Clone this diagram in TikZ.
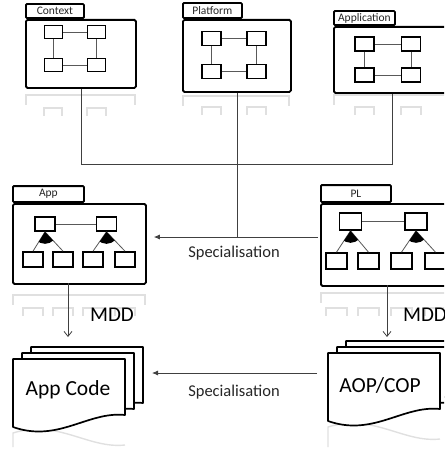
\documentclass[tikz,border=0pt]{standalone}
\usepackage{fontspec}
\setmainfont{Carlito}
\usetikzlibrary{arrows.meta}

\tikzset{
  pkg/.style={draw, line width=1.8pt, rounded corners=1.5pt, fill=white, inner sep=0pt, anchor=north west},
  pkgtab/.style={draw, line width=1.8pt, rounded corners=1pt, fill=white, inner sep=0pt, anchor=south west,
    text=black!85, font=\fontsize{11.5}{11.5}\selectfont},
  cell/.style={draw, line width=1.6pt, fill=white, inner sep=0pt},
  link/.style={line width=0.8pt, black!65},
  wire/.style={line width=0.8pt, black!75},
  ghost/.style={line width=1.4pt, black!12},
  sheet/.style={draw, line width=1.7pt, fill=white, line join=round},
  speclbl/.style={text=black!85, font=\fontsize{16.5}{16.5}\selectfont},
  mddlbl/.style={font=\fontsize{21}{21}\selectfont},
  doclbl/.style={font=\fontsize{21.5}{21.5}\selectfont},
  mddarrow/.style={wire, -{Straight Barb[length=5pt,width=8pt]}},
  specarrow/.style={wire, -{Latex[length=6pt,width=5pt]}},
  docpage/.pic={\filldraw[sheet] (0,0) -- (112,0) -- (112,56) .. controls (75,52) and (45,84) .. (0,68) -- cycle;}
}

% faint mirror image under a package
\newcommand{\ghostpkg}[5]{%
  \draw[ghost] (#1,#3+10) -- (#1,#3) -- (#2,#3) -- (#2,#3+10);
  \foreach \a/\b in {#5} \draw[ghost] (\a,#4+8) -- (\a,#4) -- (\b,#4) -- (\b,#4+8);
}

% parent cell with two children
\newcommand{\forklink}[3]{%
  \draw[link] (#1.south) -- (#2.north) (#1.south) -- (#3.north);
  \begin{scope}
    \clip (#1.south) circle [radius=12pt];
    \fill (#1.south) -- (#2.north) -- (#3.north) -- cycle;
  \end{scope}
}

\begin{document}
\begin{tikzpicture}[x=1pt, y=-1pt]
	\useasboundingbox (0,0) rectangle (444,452);
	\clip (0,0) rectangle (444,452);

	% Reflections
	\ghostpkg{26}{135}{95}{108}{44/62,87/106}
	\ghostpkg{183}{289}{96}{107}{202/221,247/266}
	\ghostpkg{334}{450}{95}{107}{355/374,401/421}
	\ghostpkg{13}{145}{295}{308}{23/43,53/73,83/103,115/135}
	\ghostpkg{321}{460}{293}{308}{326/347,358/379,391/412,425/446}
	\draw[ghost] (13,447) -- (13,433) .. controls (58,419) and (88,449) .. (125,445);
	\draw[ghost] (328,447) -- (328,427) .. controls (373,413) and (403,443) .. (440,439);

	% Context
	\node[pkg, minimum width=110, minimum height=68] (ctx) at (25,19) {};
	\node[pkgtab, minimum width=58, minimum height=14] (ctxtab) at (ctx.north west) {Context};
	\node[cell, minimum width=18, minimum height=13] (ctx1) at (53.5,32) {};
	\node[cell, minimum width=18, minimum height=13] (ctx2) at (96.5,32) {};
	\node[cell, minimum width=18, minimum height=13] (ctx3) at (53.5,65) {};
	\node[cell, minimum width=18, minimum height=13] (ctx4) at (96.5,65) {};
	\draw[link] (ctx1) -- (ctx2) -- (ctx4) -- (ctx3) -- (ctx1);

	% Platform
	\node[pkg, minimum width=108, minimum height=72] (plat) at (182,19) {};
	\node[pkgtab, minimum width=59, minimum height=15] (plattab) at (plat.north west) {Platform};
	\node[cell, minimum width=19, minimum height=14] (plat1) at (211.5,38.5) {};
	\node[cell, minimum width=19, minimum height=14] (plat2) at (256.5,38.5) {};
	\node[cell, minimum width=19, minimum height=14] (plat3) at (211.5,71.5) {};
	\node[cell, minimum width=19, minimum height=14] (plat4) at (256.5,71.5) {};
	\draw[link] (plat1) -- (plat2) -- (plat4) -- (plat3) -- (plat1);

	% Application
	\node[pkg, minimum width=117, minimum height=66] (appl) at (333,26) {};
	\node[pkgtab, minimum width=61, minimum height=14] (appltab) at (appl.north west) {Application};
	\node[cell, minimum width=19, minimum height=14] (appl1) at (364.5,44) {};
	\node[cell, minimum width=19, minimum height=14] (appl2) at (411,44) {};
	\node[cell, minimum width=19, minimum height=14] (appl3) at (364.5,75) {};
	\node[cell, minimum width=19, minimum height=14] (appl4) at (411,75) {};
	\draw[link] (appl1) -- (appl2) -- (appl4) -- (appl3) -- (appl1);

	% App
	\node[pkg, minimum width=133, minimum height=80] (app) at (12,203) {};
	\node[pkgtab, minimum width=71, minimum height=16] (apptab) at (app.north west) {App};
	\node[cell, minimum width=20, minimum height=14] (apptop1) at (45,224) {};
	\node[cell, minimum width=20, minimum height=14] (apptop2) at (106.5,224) {};
	\foreach \i/\x in {1/33,2/63,3/93,4/125}
		\node[cell, minimum width=20, minimum height=15] (appbot\i) at (\x,259.5) {};
	\draw[link] (apptop1) -- (apptop2);
	\forklink{apptop1}{appbot1}{appbot2}
	\forklink{apptop2}{appbot3}{appbot4}

	% PL
	\node[pkg, minimum width=140, minimum height=82] (pl) at (320,203) {};
	\node[pkgtab, minimum width=70, minimum height=17] (pltab) at (pl.north west) {PL};
	\node[cell, minimum width=22, minimum height=17] (pltop1) at (350.5,221.5) {};
	\node[cell, minimum width=22, minimum height=17] (pltop2) at (416,221.5) {};
	\foreach \i/\x in {1/336.5,2/368.5,3/401.5,4/435.5}
		\node[cell, minimum width=21, minimum height=16] (plbot\i) at (\x,261) {};
	\draw[link] (pltop1) -- (pltop2);
	\forklink{pltop1}{plbot1}{plbot2}
	\forklink{pltop2}{plbot3}{plbot4}

	% Code stacks
	\foreach \k in {2,1,0}
		\pic at ({13+9*\k},{359-6*\k}) {docpage};
	\node[doclbl] (appcode) at (68,390) {App Code};
	\foreach \k in {2,1,0}
		\pic at ({328+9*\k},{353-6*\k}) {docpage};
	\node[doclbl] (aopcop) at (380,385) {AOP/COP};
	\coordinate (appdoc) at (143,347);
	\coordinate (aopdoc) at (328,341);

	% Connectors
	\coordinate (bus) at (0,164);
	\coordinate (spec1) at (0,237);
	\coordinate (spec2) at (0,373);
	\coordinate (appout) at (68,283);
	\coordinate (plout) at (387,285);
	\draw[wire] (ctx.south) -- (ctx.south |- bus) -- (appl.south |- bus) -- (appl.south);
	\draw[wire] (plat.south) -- (plat.south |- spec1);
	\draw[specarrow, shorten <=2pt, shorten >=7pt] (pl.west |- spec1) -- (app.east |- spec1);
	\node[speclbl] (spec1lbl) at (234,253) {Specialisation};
	\draw[mddarrow, shorten >=10pt] (appout) -- (appout |- appdoc);
	\draw[mddarrow, shorten >=4pt] (plout) -- (plout |- aopdoc);
	\node[mddlbl] (mdd1) at (112,315) {MDD};
	\node[mddlbl] (mdd2) at (425,315) {MDD};
	\draw[specarrow, shorten <=11pt, shorten >=9pt] (aopdoc |- spec2) -- (appdoc |- spec2);
	\node[speclbl] (spec2lbl) at (234,392) {Specialisation};

\end{tikzpicture}
\end{document}
